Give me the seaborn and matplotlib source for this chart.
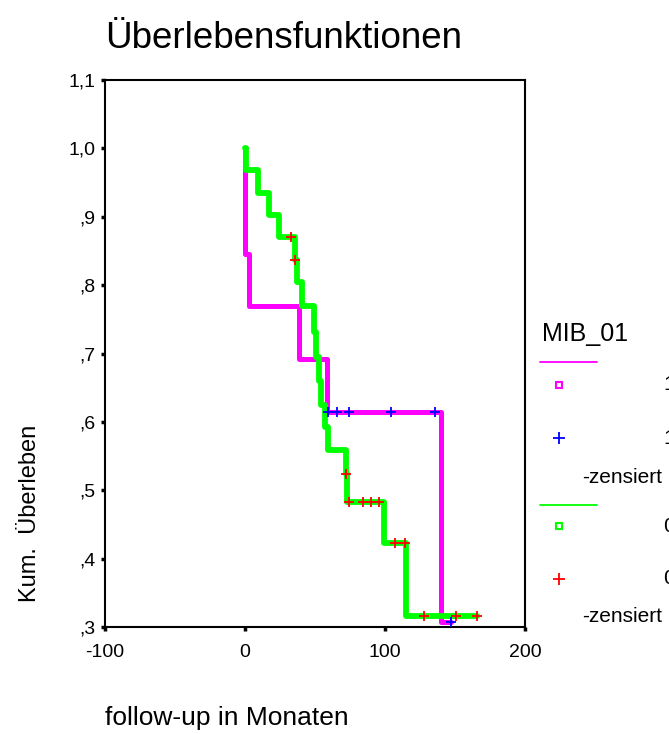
import matplotlib
matplotlib.use("Agg")  # no display
import matplotlib.pyplot as plt
import seaborn as sns
from matplotlib.lines import Line2D

sns.set_theme(style="ticks")
plt.rcParams["font.family"] = ["Liberation Sans", "DejaVu Sans"]
plt.rcParams["text.color"] = "black"

# ------------------------------------------------------------------
# Kaplan-Meier steps (months, cumulative survival)
# ------------------------------------------------------------------
group_labels = ["1", "0"]

# MIB_01 = 1
step_time_1 = [0, 0, 2.5, 38.5, 58.5, 140, 147]
step_surv_1 = [1.0, 0.846, 0.769, 0.692, 0.615, 0.308, 0.308]
cens_time_1 = [59, 66, 74, 104, 136, 147]
cens_surv_1 = [0.615, 0.615, 0.615, 0.615, 0.615, 0.308]

# MIB_01 = 0
step_time_0 = [0, 1, 9, 17, 24, 36, 37, 41, 49, 51, 53, 54, 57, 59,
               72, 73, 99, 115, 166]
step_surv_0 = [1.0, 0.968, 0.935, 0.903, 0.871, 0.837, 0.804, 0.769,
               0.732, 0.695, 0.66, 0.625, 0.593, 0.559, 0.524, 0.483,
               0.423, 0.316, 0.316]
cens_time_0 = [33, 36, 72, 74, 84, 90, 96, 107, 114, 128, 151, 166]
cens_surv_0 = [0.871, 0.837, 0.524, 0.483, 0.483, 0.483, 0.483, 0.423,
               0.423, 0.316, 0.316, 0.316]

x_ticks = [-100, 0, 100, 200]
y_ticks = [0.3, 0.4, 0.5, 0.6, 0.7, 0.8, 0.9, 1.0, 1.1]
y_tick_labels = [",3", ",4", ",5", ",6", ",7", ",8", ",9", "1,0", "1,1"]

MAGENTA = "#ff00ff"
GREEN = "#00ff00"
BLUE = "#0000ff"
RED = "#ff0000"

W, H = 669, 734


def fx(px):
    return px / W


def fy(py):
    return 1 - py / H


fig = plt.figure(figsize=(W / 100, H / 100), dpi=100)
ax = fig.add_axes([fx(105), fy(627), (525 - 105) / W, (627 - 80) / H])

sns.lineplot(x=step_time_1, y=step_surv_1, estimator=None, sort=False,
             drawstyle="steps-post", color=MAGENTA, linewidth=3.6, ax=ax,
             legend=False, zorder=2)
sns.lineplot(x=step_time_0, y=step_surv_0, estimator=None, sort=False,
             drawstyle="steps-post", color=GREEN, linewidth=4.2, ax=ax,
             legend=False, zorder=3)
sns.scatterplot(x=cens_time_1, y=cens_surv_1, marker="+", s=55, color=BLUE,
                linewidth=1.3, ax=ax, zorder=5, clip_on=False, legend=False)
sns.scatterplot(x=cens_time_0, y=cens_surv_0, marker="+", s=55, color=RED,
                linewidth=1.3, ax=ax, zorder=5, clip_on=False, legend=False)

ax.set_xlim(-100, 200)
ax.set_ylim(0.3, 1.1)
ax.set_xticks(x_ticks)
ax.set_xticklabels([str(t) for t in x_ticks])
ax.set_yticks(y_ticks)
ax.set_yticklabels(y_tick_labels)
ax.set_xlabel("")
ax.set_ylabel("")
for sp in ax.spines.values():
    sp.set_visible(True)
    sp.set_color("black")
    sp.set_linewidth(1.5)
ax.tick_params(direction="out", length=3, width=2.5, labelsize=14,
               colors="black")
ax.tick_params(axis="x", pad=9)
ax.tick_params(axis="y", pad=4)

# titles
fig.text(fx(105), fy(48), "Überlebensfunktionen", fontsize=26.5,
         ha="left", va="baseline")
fig.text(fx(105), fy(725), "follow-up in Monaten", fontsize=19,
         ha="left", va="baseline")
fig.text(fx(30), fy(602), "Kum.  Überleben", fontsize=17, rotation=90,
         ha="center", va="bottom")

# legend, SPSS layout (labels run off the right edge as in the original)
fig.text(fx(542), fy(334), "MIB_01", fontsize=18, ha="left", va="center")
legend_rows = [
    (362, 385, 438, 478, MAGENTA, BLUE, group_labels[0]),
    (505, 526, 579, 617, GREEN, RED, group_labels[1]),
]
for line_y, sq_y, cr_y, z_y, lc, cc, lab in legend_rows:
    fig.add_artist(Line2D([fx(540), fx(597)], [fy(line_y)] * 2,
                          color=lc, linewidth=1.3))
    fig.add_artist(Line2D([fx(559)], [fy(sq_y)], marker="s", markersize=5,
                          markerfacecolor="none", markeredgecolor=lc,
                          markeredgewidth=1.5, linestyle="none"))
    fig.add_artist(Line2D([fx(559)], [fy(cr_y)], marker="+", markersize=8,
                          markeredgecolor=cc, markeredgewidth=1.3,
                          linestyle="none"))
    fig.text(fx(663), fy(sq_y), lab, fontsize=15, ha="left", va="center")
    fig.text(fx(663), fy(cr_y), lab, fontsize=15, ha="left", va="center")
    fig.text(fx(582), fy(z_y), "-zensiert", fontsize=15, ha="left",
             va="center")

fig.savefig("out.png", dpi=100)
plt.close(fig)
